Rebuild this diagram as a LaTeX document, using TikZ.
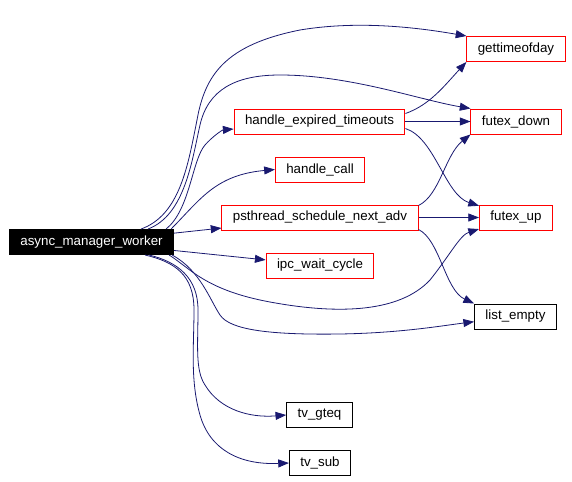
\documentclass[tikz,border=0pt]{standalone}
\usepackage{fontspec}
\setmainfont{Liberation Sans}
\usetikzlibrary{calc,arrows.meta,positioning}

\definecolor{edgeblue}{RGB}{25,25,112}

\tikzset{
    fn/.style={draw=red, line width=0.75pt, rectangle, inner xsep=8.2pt, inner ysep=0pt,
        minimum height=18.75pt, font=\fontsize{10}{12}\selectfont},
    rootfn/.style={fn, draw=black, fill=black, text=white},
    blackfn/.style={fn, draw=black},
    call/.style={draw=edgeblue, line width=0.6pt, -{Triangle[length=8pt,width=6pt]}}
}

\begin{document}
\begin{tikzpicture}[x=0.75pt,y=-0.75pt]
    \useasboundingbox (0,0) rectangle (572,482);

    \node[rootfn] (worker) at (91.5,242) {async\_manager\_worker};
    \node[fn] (expired) at (319.5,121.5) {handle\_expired\_timeouts};
    \node[fn] (hcall) at (320,169.5) {handle\_call};
    \node[fn] (sched) at (320,217.5) {psthread\_schedule\_next\_adv};
    \node[fn] (ipcwait) at (320,265.5) {ipc\_wait\_cycle};
    \node[blackfn] (tvgteq) at (319.5,415) {tv\_gteq};
    \node[blackfn] (tvsub) at (320,463) {tv\_sub};
    \node[fn] (gettime) at (516,49) {gettimeofday};
    \node[fn] (fdown) at (516,121.5) {futex\_down};
    \node[fn] (fup) at (516,217.5) {futex\_up};
    \node[blackfn] (lempty) at (515.5,316.5) {list\_empty};

    % straight calls
    \foreach \a/\b in {worker/sched, worker/ipcwait, expired/fdown, sched/fup} {
        \draw[call] (\a) -- (\b);
    }

    % calls out of async_manager_worker
    \draw[call] ($(worker.north east)+(-33,0)$)
        .. controls (180,215) and (188,165) .. (197,120)
        .. controls (205,75) and (225,45) .. (300,30)
        .. controls (360,20) and (420,28) .. (gettime.north west);
    \draw[call] ($(worker.north east)+(-26,0)$)
        .. controls (185,215) and (192,160) .. (200,125)
        .. controls (208,90) and (235,75) .. (280,75)
        .. controls (350,75) and (420,100) .. (fdown.north west);
    \draw[call] ($(worker.north east)+(-8,0)$)
        .. controls (190,210) and (192,160) .. (205,145)
        .. controls (212,137) and (222,130) .. (expired);
    \draw[call] ($(worker.north east)+(-3,0)$)
        .. controls (200,200) and (215,175) .. (hcall.west);
    \draw[call] ($(worker.south east)+(-5,0)$)
        .. controls (190,268) and (205,290) .. (270,302)
        .. controls (340,315) and (400,312) .. (430,280)
        .. controls (450,255) and (460,235) .. (fup);
    \draw[call] ($(worker.south east)+(-2,0)$)
        .. controls (200,270) and (210,300) .. (220,315)
        .. controls (230,330) and (270,335) .. (340,334)
        .. controls (400,333) and (440,326) .. (lempty);
    \draw[call] ($(worker.south east)+(-25,0)$)
        .. controls (178,262) and (198,278) .. (198,310)
        .. controls (198,345) and (195,370) .. (205,385)
        .. controls (220,410) and (250,418) .. (tvgteq.west);
    \draw[call] ($(worker.south east)+(-29,0)$)
        .. controls (175,262) and (194,275) .. (194,310)
        .. controls (194,345) and (190,380) .. (200,415)
        .. controls (210,450) and (240,465) .. (tvsub.west);

    % calls out of the second column
    \draw[call] ($(expired.east)+(0,-8)$)
        .. controls (430,105) and (445,85) .. (gettime.south west);
    \draw[call] ($(expired.east)+(0,7)$)
        .. controls (435,138) and (445,195) .. (fup);
    \draw[call] ($(sched.east)+(0,-12)$)
        .. controls (440,195) and (445,155) .. (fdown.south west);
    \draw[call] ($(sched.east)+(0,12)$)
        .. controls (440,240) and (445,290) .. (lempty.north west);
\end{tikzpicture}
\end{document}
